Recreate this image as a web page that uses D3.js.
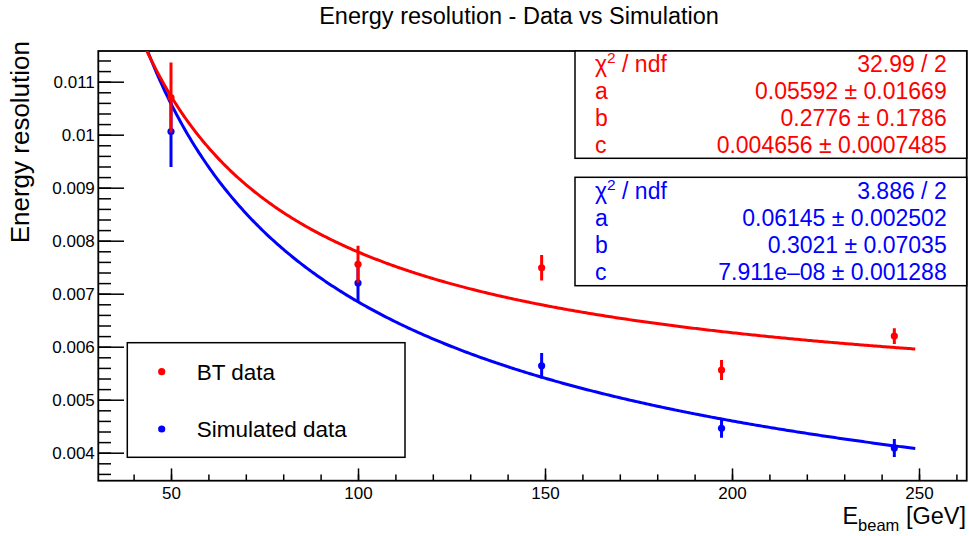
<!DOCTYPE html>
<html>
<head>
<meta charset="utf-8">
<script src="https://cdn.jsdelivr.net/npm/d3@7"></script>
<style>
  body { margin: 0; background: #fff; }
  svg text { font-family: "Liberation Sans", Arial, sans-serif; }
</style>
</head>
<body>
<svg class="plot" width="969" height="536"></svg>
<script>
const energies = [50, 100, 149.1, 197.2, 243.4]
const btRes = [0.01070, 0.007555, 0.00749, 0.00556, 0.00620]
const btErr = [0.00066, 0.00035, 0.00024, 0.00019, 0.00015]
const simRes = [0.01006, 0.00720, 0.00564, 0.00446, 0.00409]
const simErr = [0.00067, 0.00035, 0.00024, 0.00018, 0.00017]

// fit parameters a, b, c  ->  sqrt(a^2/E + b^2/E^2 + c^2)
const btFitPars = [0.05592, 0.2776, 0.004656]
const simFitPars = [0.06145, 0.3021, 7.911e-08]
const fitRange = [40, 249]

// stat box rows
const btStats = [["ndf", "32.99 / 2"], ["a", "0.05592 \u00b1 0.01669"], ["b", "0.2776 \u00b1 0.1786"], ["c", "0.004656 \u00b1 0.0007485"]]
const simStats = [["ndf", "3.886 / 2"], ["a", "0.06145 \u00b1 0.002502"], ["b", "0.3021 \u00b1 0.07035"], ["c", "7.911e\u201308 \u00b1 0.001288"]]

const xMajor = [50, 100, 150, 200, 250]
const xMinor = d3.range(40, 261, 10)
const yMajor = [0.004, 0.005, 0.006, 0.007, 0.008, 0.009, 0.010, 0.011]
const yTickLabels = ["0.004", "0.005", "0.006", "0.007", "0.008", "0.009", "0.01", "0.011"]
const yMinor = d3.range(36, 115, 2).map(v => v / 10000)

const legendNames = ["BT data", "Simulated data"]
const red = "#ff0000", blue = "#0000ff"

const fL = 98.3, fR = 966.7, fT = 51, fB = 480.7

const svg = d3.select(".plot")

const x = d3.scaleLinear().domain([30.56, 262.75]).range([fL, fR])
const y = d3.scaleLinear().domain([0.003472, 0.011579]).range([fB, fT])

svg.append("defs").append("clipPath")
.attr("id", "frameClip")
.append("rect")
.attr("x", fL).attr("y", fT)
.attr("width", fR - fL).attr("height", fB - fT)

// title
svg.append("text")
.attr("x", 519).attr("y", 24)
.attr("text-anchor", "middle")
.style("font-size", "23.5px")
.text("Energy resolution - Data vs Simulation")

// axes
const xAxisMajor = d3.axisBottom(x).tickValues(xMajor).tickSizeInner(-12.3).tickSizeOuter(0).tickPadding(6)
const xAxisMinor = d3.axisBottom(x).tickValues(xMinor).tickSizeInner(-6.3).tickSizeOuter(0).tickFormat("")
const yAxisMajor = d3.axisLeft(y).tickValues(yMajor).tickSizeInner(-25.7).tickSizeOuter(0).tickPadding(3.5)
.tickFormat((d, i) => yTickLabels[i])
const yAxisMinor = d3.axisLeft(y).tickValues(yMinor).tickSizeInner(-12.7).tickSizeOuter(0).tickFormat("")

function styleAxis(g) {
  g.select(".domain").remove()
  g.selectAll("line").attr("stroke", "black").attr("stroke-width", 1.5)
  g.selectAll("text").attr("fill", "black").style("font-size", "17px")
}

svg.append("g").attr("transform", "translate(0," + fB + ")").call(xAxisMinor).call(styleAxis)
svg.append("g").attr("transform", "translate(0," + fB + ")").call(xAxisMajor).call(styleAxis)
svg.append("g").attr("transform", "translate(" + fL + ",0)").call(yAxisMinor).call(styleAxis)
svg.append("g").attr("transform", "translate(" + fL + ",0)").call(yAxisMajor).call(styleAxis)

// frame
svg.append("rect")
.attr("x", fL).attr("y", fT)
.attr("width", fR - fL).attr("height", fB - fT)
.attr("fill", "none")
.style("stroke", "black")
.style("stroke-width", "1.8px")

// axis titles
const xt = svg.append("text")
.attr("x", 966).attr("y", 523.5)
.attr("text-anchor", "end")
.style("font-size", "23.5px")
xt.append("tspan").text("E")
xt.append("tspan").attr("dy", 7).style("font-size", "16.5px").text("beam")
xt.append("tspan").attr("dy", -7).text(" [GeV]")

svg.append("text")
.attr("transform", "translate(29,41) rotate(-90)")
.attr("text-anchor", "end")
.style("font-size", "26px")
.text("Energy resolution")

// fit curves + points
const curve = d3.line()
.x(d => x(d[0]))
.y(d => y(d[1]))
.curve(d3.curveLinear)

function fitPoints(p) {
  return d3.range(fitRange[0], fitRange[1] + 0.01, 0.5).map(e =>
    [e, Math.sqrt(p[0] * p[0] / e + p[1] * p[1] / (e * e) + p[2] * p[2])])
}

const plotG = svg.append("g").attr("clip-path", "url(#frameClip)")

function drawSeries(vals, errs, pars, col) {
  plotG.append("path")
  .attr("d", curve(fitPoints(pars)))
  .attr("fill", "none")
  .style("stroke", col)
  .style("stroke-width", "3px")

  const pts = energies.map((e, i) => ({e: e, v: vals[i], err: errs[i]}))

  plotG.selectAll(null)
  .data(pts)
  .enter()
  .append("line")
  .attr("x1", d => x(d.e)).attr("x2", d => x(d.e))
  .attr("y1", d => y(d.v - d.err)).attr("y2", d => y(d.v + d.err))
  .style("stroke", col)
  .style("stroke-width", "3px")

  plotG.selectAll(null)
  .data(pts)
  .enter()
  .append("circle")
  .attr("cx", d => x(d.e))
  .attr("cy", d => y(d.v))
  .attr("r", 3.6)
  .attr("fill", col)
}

drawSeries(simRes, simErr, simFitPars, blue)
drawSeries(btRes, btErr, btFitPars, red)

// stat boxes
function statBox(top, h, rows, col) {
  svg.append("rect")
  .attr("x", 575).attr("y", top)
  .attr("width", 966.7 - 575).attr("height", h)
  .attr("fill", "white")
  .style("stroke", "black")
  .style("stroke-width", "1.5px")

  const rowH = h / rows.length
  rows.forEach((r, i) => {
    const base = top + rowH * i + rowH / 2 + 8
    const lt = svg.append("text")
    .attr("x", 595).attr("y", base)
    .attr("fill", col)
    .style("font-size", "23px")
    if (i === 0) {
      lt.append("tspan").text("\u03c7")
      lt.append("tspan").attr("dy", -9).style("font-size", "15.5px").text("2")
      lt.append("tspan").attr("dy", 9).text(" / " + r[0])
    } else {
      lt.text(r[0])
    }
    svg.append("text")
    .attr("x", 946.7).attr("y", base)
    .attr("text-anchor", "end")
    .attr("fill", col)
    .style("font-size", "23px")
    .text(r[1])
  })
}

statBox(51, 107.3, btStats, red)
statBox(177.3, 108.4, simStats, blue)

// legend
svg.append("rect")
.attr("x", 127.3).attr("y", 342.7)
.attr("width", 405 - 127.3).attr("height", 457.3 - 342.7)
.attr("fill", "white")
.style("stroke", "black")
.style("stroke-width", "1.5px")

const legCols = [red, blue]
const legY = [371.7, 429]
legendNames.forEach((n, i) => {
  svg.append("circle")
  .attr("cx", 161.7).attr("cy", legY[i])
  .attr("r", 3.6)
  .attr("fill", legCols[i])
  svg.append("text")
  .attr("x", 196.7).attr("y", legY[i] + 8.3)
  .style("font-size", "22.5px")
  .text(n)
})
</script>
</body>
</html>
